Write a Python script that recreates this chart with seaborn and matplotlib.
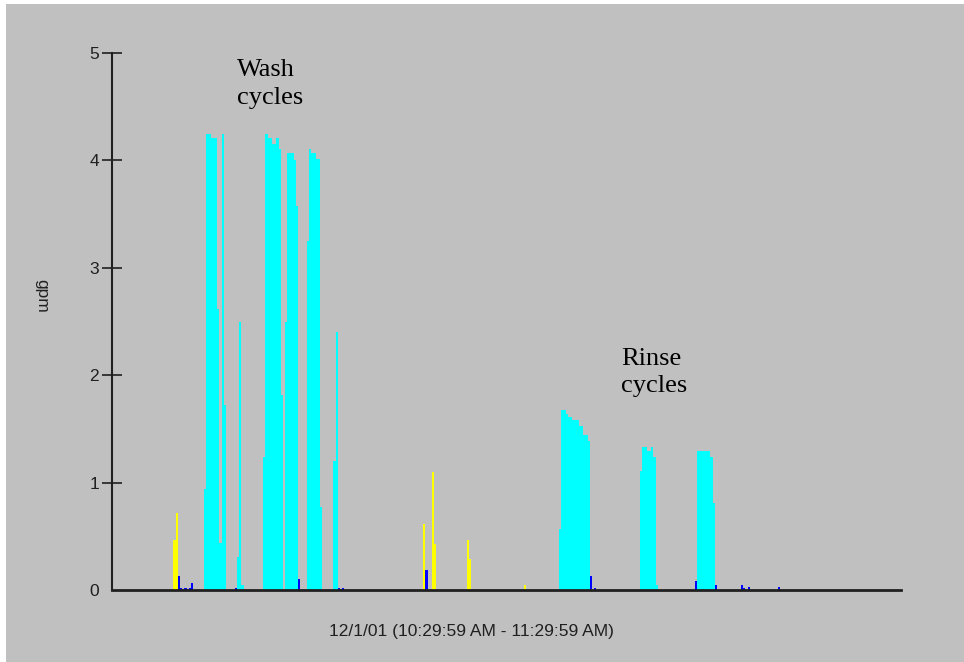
import numpy as np
import pandas as pd
import matplotlib
matplotlib.use("Agg")
import matplotlib.pyplot as plt
import seaborn as sns
from matplotlib.patches import Rectangle

# ---- data: 10-second samples over one hour (start time in seconds, flow in gpm)
yellow_t = [280, 290, 1420, 1460, 1470, 1620, 1630, 1880]
yellow_v = [0.47, 0.72, 0.61, 1.10, 0.43, 0.47, 0.29, 0.05]

blue_t = [300, 310, 320, 330, 340, 350, 360, 560, 850, 1030, 1040, 1050,
          1430, 2180, 2200, 2660, 2750, 2870, 2880, 2900, 3040]
blue_v = [0.13, 0.02, 0.01, 0.02, 0.01, 0.02, 0.065, 0.02, 0.10, 0.02, 0.01, 0.02,
          0.19, 0.13, 0.02, 0.08, 0.05, 0.05, 0.02, 0.03, 0.03]

cyan_t = [420, 430, 440, 450, 460, 470, 480, 490, 500, 510,
          570, 580, 590,
          690, 700, 710, 720, 730, 740, 750, 760, 770, 790, 800, 810, 820, 830, 840,
          890, 900, 910, 920, 930, 940, 950,
          1010, 1020,
          2040, 2050, 2060, 2070, 2080, 2090, 2100, 2110, 2120, 2130, 2140, 2150, 2160, 2170,
          2410, 2420, 2430, 2440, 2450, 2460, 2470, 2480,
          2670, 2680, 2690, 2700, 2710, 2720, 2730, 2740]
cyan_v = [0.94, 4.25, 4.25, 4.21, 4.21, 4.21, 2.62, 0.44, 4.25, 1.72,
          0.31, 2.50, 0.05,
          1.24, 4.25, 4.21, 4.21, 4.15, 4.15, 4.21, 4.11, 1.82, 2.50, 4.07, 4.07, 4.07, 4.00, 3.58,
          3.25, 4.11, 4.07, 4.07, 4.01, 4.01, 0.77,
          1.20, 2.40,
          0.57, 1.68, 1.68, 1.64, 1.61, 1.61, 1.58, 1.58, 1.58, 1.53, 1.53, 1.44, 1.44, 1.39,
          1.11, 1.33, 1.33, 1.29, 1.29, 1.33, 1.24, 0.05,
          1.29, 1.29, 1.29, 1.29, 1.29, 1.29, 1.24, 0.81]

y_ticks = [0, 1, 2, 3, 4, 5]
x_title = "12/1/01 (10:29:59 AM - 11:29:59 AM)"
y_title = "gpm"

frames = []
for kind, t, v in [("cyan", cyan_t, cyan_v), ("yellow", yellow_t, yellow_v), ("blue", blue_t, blue_v)]:
    frames.append(pd.DataFrame({"time": np.array(t) + 5, "gpm": v, "kind": kind}))
df = pd.concat(frames, ignore_index=True)

sns.set_style("ticks")
plt.rcParams["font.family"] = ["Liberation Sans", "DejaVu Sans"]

fig = plt.figure(figsize=(9.64, 6.62), dpi=100, facecolor="white")
fig.patches.append(Rectangle((6 / 964, 0), 1, 1 - 4 / 662, transform=fig.transFigure,
                             facecolor="#C0C0C0", edgecolor="none", zorder=-10))
ax = fig.add_axes([112 / 964, 1 - 590 / 662, 789 / 964, 537 / 662])
ax.set_facecolor("#C0C0C0")

sns.histplot(data=df, x="time", weights="gpm", hue="kind",
             hue_order=["cyan", "yellow", "blue"],
             palette={"cyan": "#00FFFF", "yellow": "#FFFF00", "blue": "#0000FF"},
             binwidth=10, binrange=(0, 3600), multiple="layer", element="bars",
             fill=True, alpha=1, linewidth=0, legend=False, ax=ax, antialiased=False)

ax.set_xlim(0, 3600)
ax.set_ylim(0, 5)
ax.set_xticks([])
ax.set_yticks(y_ticks)
ax.set_yticklabels([str(v) for v in y_ticks])
ax.tick_params(axis="y", direction="inout", length=14.4, width=1.2, color="#202020",
               labelsize=12.5, pad=2, labelcolor="#202020")
ax.yaxis.get_major_ticks()[0].tick1line.set_visible(False)

for s in ["top", "right"]:
    ax.spines[s].set_visible(False)
ax.spines["left"].set_linewidth(1.5)
ax.spines["left"].set_color("#202020")
ax.spines["bottom"].set_linewidth(2)
ax.spines["bottom"].set_color("#202020")

ax.set_ylabel(y_title, rotation=270, fontsize=12.5, color="#202020", va="center", ha="center")
ax.yaxis.set_label_coords(-0.0887, 0.5475)
ax.set_xlabel(x_title, fontsize=12.5, color="#202020", va="center", ha="center")
ax.xaxis.set_label_coords(0.456, -0.0764)

serif = ["Liberation Serif", "DejaVu Serif"]
ax.text(570, 4.786, "Wash", family=serif, fontsize=19, va="baseline", ha="left", color="black")
ax.text(570, 4.525, "cycles", family=serif, fontsize=19, va="baseline", ha="left", color="black")
ax.text(2322, 2.095, "Rinse", family=serif, fontsize=19, va="baseline", ha="left", color="black")
ax.text(2322, 1.844, "cycles", family=serif, fontsize=19, va="baseline", ha="left", color="black")

fig.savefig("out.png", dpi=100, facecolor=fig.get_facecolor())
